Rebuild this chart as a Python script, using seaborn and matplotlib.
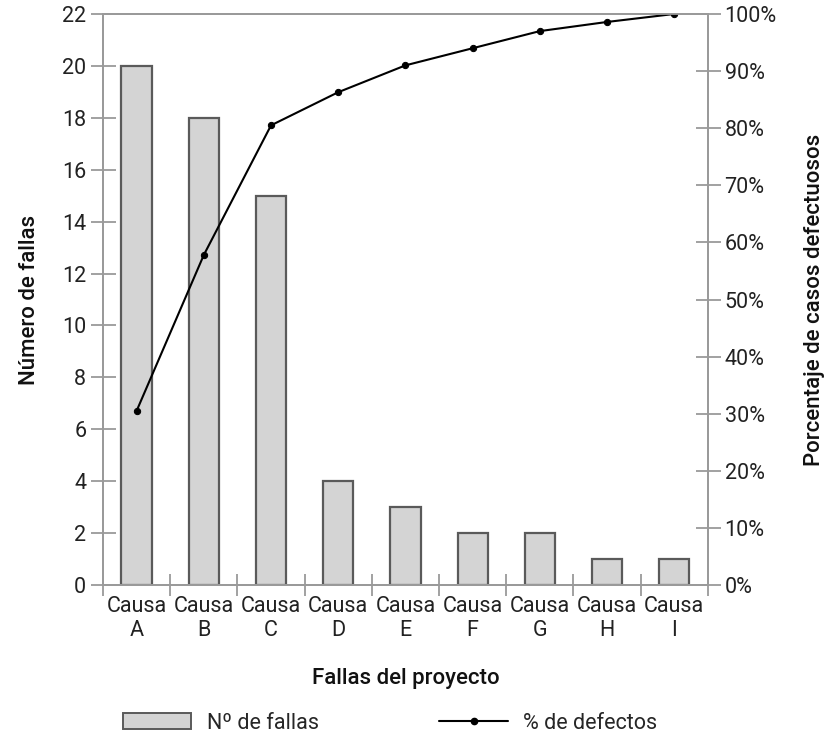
import matplotlib
matplotlib.use("Agg")
import matplotlib.pyplot as plt
import seaborn as sns
import pandas as pd
from matplotlib.patches import Patch
from matplotlib.lines import Line2D
from matplotlib.ticker import FixedLocator, FuncFormatter

categories = ["Causa\nA", "Causa\nB", "Causa\nC", "Causa\nD", "Causa\nE",
              "Causa\nF", "Causa\nG", "Causa\nH", "Causa\nI"]
fallas = [20, 18, 15, 4, 3, 2, 2, 1, 1]
pct_defectos = [30.5, 57.8, 80.5, 86.3, 91.0, 94.0, 97.0, 98.6, 100.0]
left_ticks = list(range(0, 23, 2))
right_ticks = list(range(0, 101, 10))

sns.set_theme(style="white")
plt.rcParams["font.family"] = ["Roboto", "DejaVu Sans"]

df = pd.DataFrame({"causa": categories, "fallas": fallas, "pct": pct_defectos})

fig = plt.figure(figsize=(8.26, 7.35), dpi=100)
ax = fig.add_axes([0.1247, 0.204, 0.857 - 0.1247, 0.981 - 0.204])

sns.barplot(data=df, x="causa", y="fallas", ax=ax, color="#d4d4d4",
            edgecolor="#5a5a5a", linewidth=1.6, width=0.45, saturation=1)
ax.set_xlim(-0.5, 8.5)
ax.set_ylim(0, 22)
ax.set_yticks(left_ticks)
ax.set_yticklabels([str(t) for t in left_ticks])

ax2 = ax.twinx()
sns.lineplot(data=df, x="causa", y="pct", ax=ax2, color="black", lw=1.5,
             marker="o", markersize=4.5, markeredgecolor="black")
ax2.set_ylim(0, 100)
ax2.set_yticks(right_ticks)
ax2.yaxis.set_major_formatter(FuncFormatter(lambda v, p: f"{int(v)}%"))
ax2.set_xlim(-0.5, 8.5)

spine_c = "#9a9a9a"
for a in (ax, ax2):
    for s in a.spines.values():
        s.set_color(spine_c)
        s.set_linewidth(1.3)
        s.set_visible(True)

fs = 15.5
ax.tick_params(axis="y", direction="inout", length=18, width=1.3, color=spine_c,
               labelsize=fs, labelcolor="#222222", pad=3, left=True)
ax2.tick_params(axis="y", direction="inout", length=18, width=1.3, color=spine_c,
                labelsize=fs, labelcolor="#222222", pad=3, right=True)

ax.xaxis.set_minor_locator(FixedLocator([i - 0.5 for i in range(10)]))
ax.tick_params(axis="x", which="major", length=0, labelsize=fs,
               labelcolor="#222222", pad=8)
ax.tick_params(axis="x", which="minor", direction="inout", length=16,
               width=1.3, color=spine_c, bottom=True)
for lab in ax.get_xticklabels():
    lab.set_linespacing(1.2)

ax.set_xlabel("Fallas del proyecto", fontsize=16, fontweight="medium",
              color="#111111", labelpad=19)
ax.set_ylabel("Número de fallas", fontsize=16, fontweight="medium",
              color="#111111", labelpad=16)
ax2.set_ylabel("Porcentaje de casos defectuosos", fontsize=16,
               fontweight="medium", color="#111111", labelpad=20)
ax2.set_xlabel("")

handles = [Patch(facecolor="#d4d4d4", edgecolor="#5a5a5a", linewidth=1.4),
           Line2D([0], [0], color="black", lw=1.5, marker="o", markersize=4.5)]
fig.legend(handles, ["Nº de fallas", "% de defectos"], loc="center",
           bbox_to_anchor=(0.472, 0.016), ncol=2, frameon=False, fontsize=fs,
           handlelength=3.2, handleheight=0.8, columnspacing=5.6,
           handletextpad=0.7)

fig.savefig("out.png", dpi=100)
